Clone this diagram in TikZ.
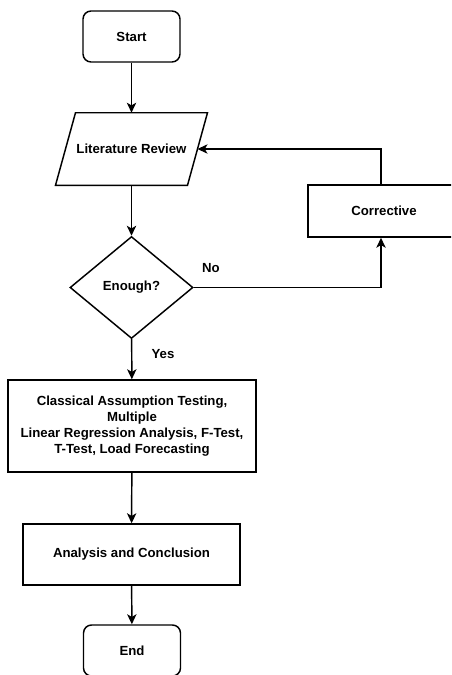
\documentclass[tikz,border=0pt]{standalone}
\usepackage{fontspec}
\setmainfont{Liberation Sans}
\usetikzlibrary{arrows.meta, shapes.geometric}

\begin{document}
\begin{tikzpicture}[x=0.75pt, y=-0.75pt, >={Stealth[length=7.5pt, width=7pt, inset=2pt]},
  every node/.style={font=\fontsize{9.9}{12}\selectfont\bfseries},
  line/.style={line width=1.1pt},
  terminal/.style={draw, line, rounded corners=6pt, minimum width=72.75pt, minimum height=38.25pt},
  procbox/.style={draw, line, align=center, inner sep=2pt}]
  \useasboundingbox (0,0) rectangle (451,675);
  \clip (0,0) rectangle (451,675);

  % Start and literature review (slanted outline drawn round the node)
  \node[terminal] (start) at (131.5, 36.5) {Start};
  \node[minimum width=98.6pt, minimum height=54pt] (lit) at (131.5, 149) {Literature Review};
  \draw[line] ([xshift=-7.5pt]lit.south west) -- ([xshift=-7.5pt]lit.south east)
    -- ([xshift=7.5pt]lit.north east) -- ([xshift=7.5pt]lit.north west) -- cycle;

  % Decision
  \node[draw, line, diamond, inner sep=0pt, minimum width=92.25pt, minimum height=76.5pt] (dec) at (131.5, 287.5) {Enough?};

  % Corrective loop (box runs off the right edge)
  \node[procbox, minimum width=114pt, minimum height=39pt] (corr) at (384, 211) {Corrective};

  % Main steps
  \node[procbox, minimum width=186pt, minimum height=69pt] (proc) at (132, 426)
    {Classical Assumption Testing,\\Multiple\\Linear Regression Analysis, F-Test,\\T-Test, Load Forecasting};
  \node[procbox, minimum width=162.75pt, minimum height=45.75pt] (anal) at (131.5, 554.5) {Analysis and Conclusion};
  \node[terminal] (end) at (132, 650.5) {End};

  % Connectors
  \draw[->, line] (start) -- (lit);
  \draw[->, line] (lit) -- (dec);
  \draw[->, line] (dec) -- (proc);
  \draw[->, line] (dec.east) -| ([xshift=-2.25pt]corr.south);
  \draw[->, line] ([xshift=-2.25pt]corr.north) |- (lit.east);
  \draw[->, line] (proc) -- (anal);
  \draw[->, line] (anal) -- (end);

  % Branch labels
  \node (yeslbl) at (163, 354) {Yes};
  \node (nolbl) at (211, 268) {No};
\end{tikzpicture}
\end{document}
